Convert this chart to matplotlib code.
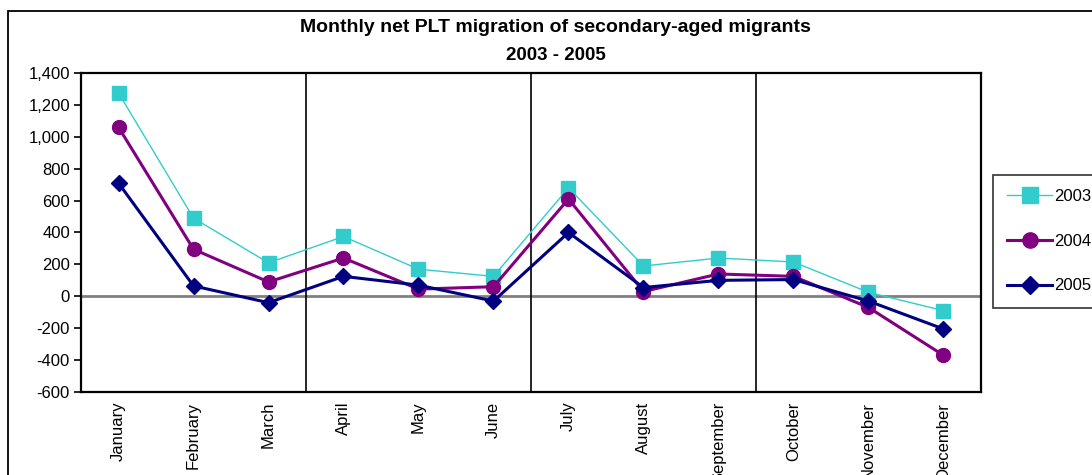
import matplotlib
matplotlib.use("Agg")
import matplotlib.pyplot as plt
from matplotlib.patches import Rectangle
from matplotlib.ticker import FuncFormatter

months = ["January", "February", "March", "April", "May", "June", "July",
          "August", "September", "October", "November", "December"]
years = ["2003", "2004", "2005"]
net_2003 = [1275, 490, 210, 375, 170, 125, 680, 190, 240, 215, 25, -90]
net_2004 = [1060, 295, 90, 240, 45, 60, 610, 30, 140, 125, -70, -370]
net_2005 = [710, 65, -40, 125, 70, -30, 400, 55, 100, 105, -30, -205]
quarter_breaks = [3, 6, 9]

plt.rcParams['font.family'] = ['Liberation Sans', 'DejaVu Sans']
plt.rcParams['axes.unicode_minus'] = False

fig = plt.figure(figsize=(10.92, 4.75), dpi=100)
ax = fig.add_axes([81 / 1092, 1 - 392 / 475, 900 / 1092, 319 / 475])

x = list(range(len(months)))
ax.axhline(0, color="#808080", lw=2, zorder=1)
for b in quarter_breaks:
    ax.axvline(b - 0.5, color="black", lw=1.2, zorder=1)

ax.plot(x, net_2003, color="#33CCCC", lw=1, marker="s", ms=10,
        label=years[0], zorder=3)
ax.plot(x, net_2004, color="#800080", lw=2.2, marker="o", ms=10,
        label=years[1], zorder=4)
ax.plot(x, net_2005, color="#000080", lw=2.2, marker="D", ms=8.5,
        label=years[2], zorder=5)

ax.set_xlim(-0.5, 11.5)
ax.set_ylim(-600, 1400)
ax.set_yticks(range(-600, 1401, 200))
ax.yaxis.set_major_formatter(FuncFormatter(lambda v, p: f"{int(v):,}"))
ax.set_xticks(x)
ax.set_xticklabels(months, rotation=90, va="top")
ax.tick_params(axis="x", length=0, pad=7, labelsize=12)
ax.tick_params(axis="y", length=5, width=1.2, labelsize=12, pad=3)
for s in ax.spines.values():
    s.set_linewidth(1.6)

fig.text(0.509, 1 - 28 / 475, "Monthly net PLT migration of secondary-aged migrants",
         ha="center", va="center", fontsize=14, fontweight="bold")
fig.text(0.509, 1 - 55 / 475, "2003 - 2005",
         ha="center", va="center", fontsize=13.5, fontweight="bold")

leg = fig.legend(loc="upper left", bbox_to_anchor=(993 / 1092, 1 - 175 / 475),
                 frameon=True, fancybox=False, edgecolor="black", fontsize=12,
                 handlelength=2.7, labelspacing=1.78, borderpad=0.85,
                 handletextpad=0.1, borderaxespad=0, markerscale=1.1)
leg.get_frame().set_linewidth(1.2)

fig.patches.append(Rectangle((7.5 / 1092, -0.1), 1.2, 1.1 - 11.5 / 475,
                             transform=fig.transFigure, fill=False,
                             edgecolor="black", lw=1.3))

fig.savefig("out.png", dpi=100)
